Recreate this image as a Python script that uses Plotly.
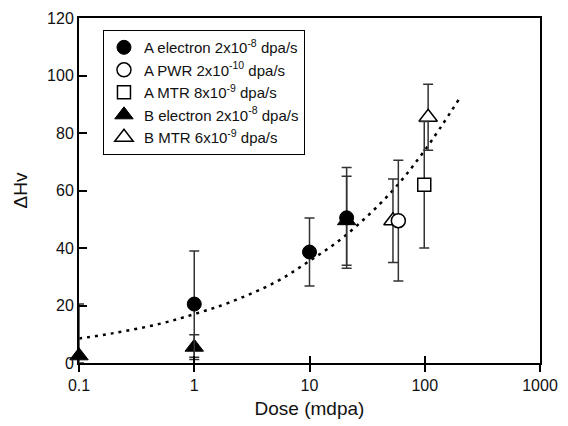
import plotly.graph_objects as go

# A electron 2x10^-8 dpa/s (filled circle)
a_e_x = [1, 10, 21]
a_e_y = [20.5, 38.6, 50.5]
a_e_err = [18.5, 11.8, 17.5]

# A PWR 2x10^-10 dpa/s (open circle)
a_pwr_x = [59]
a_pwr_y = [49.5]
a_pwr_err = [21]

# A MTR 8x10^-9 dpa/s (open square)
a_mtr_x = [99]
a_mtr_y = [62]
a_mtr_err = [22]

# B electron 2x10^-8 dpa/s (filled triangle)
b_e_x = [0.1, 1, 21]
b_e_y = [2.5, 5.5, 49.5]
b_e_err_up = [18, 4.3, 15.5]
b_e_err_down = [2.5, 4.3, 15.5]

# B MTR 6x10^-9 dpa/s (open triangle)
b_mtr_x = [53, 107]
b_mtr_y = [49.5, 85.5]
b_mtr_err = [14.5, 11.5]

# dotted trend curve
fit_x = [0.1, 0.2, 0.5, 1, 2, 5, 10, 20, 50, 100, 200]
fit_y = [8.5, 10.4, 13.6, 17, 21, 28, 35.5, 44, 59, 74, 92]

x_ticks = [0.1, 1, 10, 100, 1000]
x_ticklabels = ["0.1", "1", "10", "100", "1000"]
y_ticks = [0, 20, 40, 60, 80, 100, 120]

FONT = "Arial, Liberation Sans, sans-serif"
ERRC = "#333333"
TXT = "#111111"

fig = go.Figure()

fig.add_trace(go.Scatter(x=fit_x, y=fit_y, mode="lines", showlegend=False,
                         line=dict(color="black", width=2.5, dash="3px,5px", shape="spline")))

def err(up, down=None):
    d = dict(type="data", array=up, visible=True, color=ERRC, thickness=1.5, width=5)
    if down is not None:
        d["symmetric"] = False
        d["arrayminus"] = down
    return d

fig.add_trace(go.Scatter(x=b_mtr_x, y=b_mtr_y, mode="markers", name="B MTR 6x10<sup>-9</sup> dpa/s",
                         error_y=err(b_mtr_err), cliponaxis=False,
                         marker=dict(symbol="triangle-up", size=16, color="white",
                                     line=dict(color="black", width=1.5)), legendrank=5))
fig.add_trace(go.Scatter(x=a_pwr_x, y=a_pwr_y, mode="markers", name="A PWR 2x10<sup>-10</sup> dpa/s",
                         error_y=err(a_pwr_err), cliponaxis=False,
                         marker=dict(symbol="circle", size=14, color="white",
                                     line=dict(color="black", width=1.5)), legendrank=2))
fig.add_trace(go.Scatter(x=a_mtr_x, y=a_mtr_y, mode="markers", name="A MTR 8x10<sup>-9</sup> dpa/s",
                         error_y=err(a_mtr_err), cliponaxis=False,
                         marker=dict(symbol="square", size=13, color="white",
                                     line=dict(color="black", width=1.5)), legendrank=3))
fig.add_trace(go.Scatter(x=b_e_x, y=b_e_y, mode="markers", name="B electron 2x10<sup>-8</sup> dpa/s",
                         error_y=err(b_e_err_up, b_e_err_down), cliponaxis=False,
                         marker=dict(symbol="triangle-up", size=16, color="black",
                                     line=dict(color="black", width=1)), legendrank=4))
fig.add_trace(go.Scatter(x=a_e_x, y=a_e_y, mode="markers", name="A electron 2x10<sup>-8</sup> dpa/s",
                         error_y=err(a_e_err), cliponaxis=False,
                         marker=dict(symbol="circle", size=14, color="black",
                                     line=dict(color="black", width=1)), legendrank=1))

# invisible trace for second x axis (inner ticks)
fig.add_trace(go.Scatter(x=[x_ticks[0]], y=[y_ticks[0]], xaxis="x2", mode="markers",
                         marker=dict(opacity=0), showlegend=False, hoverinfo="skip"))

fig.update_layout(
    width=568, height=426,
    margin=dict(l=79, r=27, t=10, b=62),
    paper_bgcolor="white", plot_bgcolor="white",
    font=dict(family=FONT, size=16, color=TXT),
    showlegend=True,
    legend=dict(x=0.052, y=0.965, xanchor="left", yanchor="top",
                bordercolor="black", borderwidth=1, bgcolor="white",
                font=dict(family=FONT, size=15, color=TXT),
                tracegroupgap=0, itemwidth=30),
    xaxis=dict(type="log", range=[-1, 3], tickvals=x_ticks, ticktext=x_ticklabels,
               ticks="outside", ticklen=7, tickwidth=1.5, tickcolor="black",
               showline=True, linecolor="black", linewidth=2, mirror=True,
               showgrid=False, zeroline=False,
               title=dict(text="Dose (mdpa)", standoff=8)),
    xaxis2=dict(type="log", range=[-1, 3], overlaying="x", anchor="y", side="bottom",
                tickvals=x_ticks, showticklabels=False, ticks="inside", ticklen=7,
                tickwidth=1.5, tickcolor="black", showgrid=False, zeroline=False,
                showline=False),
    yaxis=dict(range=[0, 120], tickvals=y_ticks, ticks="inside", ticklen=8,
               tickwidth=1.5, tickcolor="black",
               showline=True, linecolor="black", linewidth=2, mirror=True,
               showgrid=False, zeroline=False,
               title=dict(text="ΔHv", standoff=14)),
)

fig.write_html("out.html")
